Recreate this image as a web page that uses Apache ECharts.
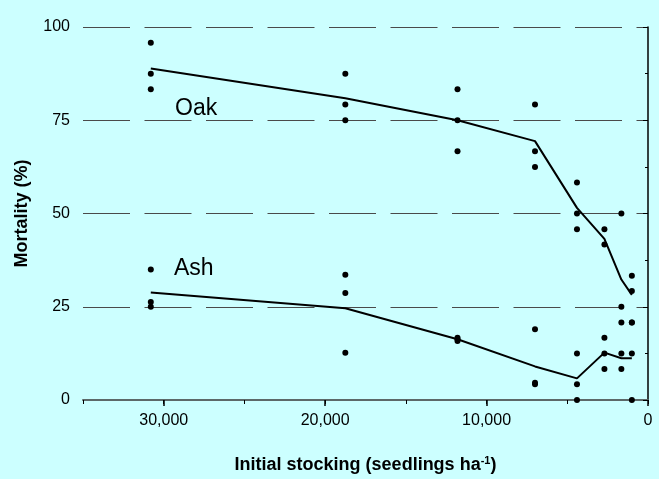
<!DOCTYPE html>
<html>
<head>
<meta charset="utf-8">
<script src="https://cdn.jsdelivr.net/npm/echarts@6/dist/echarts.min.js"></script>
<style>
html,body{margin:0;padding:0;background:#ffffff;}
#c{width:659px;height:479px;background:#CCFFFF;}
</style>
</head>
<body>
<div id="c"></div>
<script>
// Initial stocking (seedlings/ha) for each treatment
const stocking = [30800, 18750, 11800, 7000, 4400, 2700, 1650, 1000];
// Mean mortality (%) lines
const oakMean = [88.9, 80.9, 75.0, 69.4, 51.5, 43.2, 32.3, 28.2];
const ashMean = [28.8, 24.6, 16.3, 9.0, 5.8, 12.7, 11.2, 11.2];
// Individual plot mortality (%)
const oakPlots = [[95.8, 87.5, 83.3], [87.5, 79.2, 75.0], [83.3, 75.0, 66.7], [79.2, 66.7, 62.5],
                  [58.3, 50.0, 45.8], [45.8, 41.7], [50.0, 25.0, 20.8], [33.3, 29.2, 20.8]];
const ashPlots = [[35.0, 26.3, 25.0], [33.6, 28.7, 12.7], [16.7, 16.3, 15.8], [19.0, 4.6, 4.2],
                  [12.5, 4.2, 0], [16.7, 12.5, 8.3], [12.5, 8.3], [20.8, 12.5, 0]];
// Axis ticks
const xTicks = [0, 10000, 20000, 30000];
const yTicks = [0, 25, 50, 75, 100];

const FONT = "'Liberation Sans', Arial, Helvetica, sans-serif";

function flatten(xs, plots) {
  const out = [];
  plots.forEach((vals, i) => vals.forEach(v => out.push([xs[i], v])));
  return out;
}
const oakPts = flatten(stocking, oakPlots);
const ashPts = flatten(stocking, ashPlots);
const oakLine = stocking.map((x, i) => [x, oakMean[i]]);
const ashLine = stocking.map((x, i) => [x, ashMean[i]]);

const chart = echarts.init(document.getElementById('c'), null, {renderer: 'canvas'});
chart.setOption({
  animation: false,
  backgroundColor: '#CCFFFF',
  grid: {left: 83, right: 11, top: 27, bottom: 79, containLabel: false},
  xAxis: [{
    type: 'value', min: 0, max: 35000, interval: 5000, inverse: true,
    axisLine: {show: true, lineStyle: {color: '#5c6868', width: 2}},
    axisTick: {show: true, length: 4, lineStyle: {color: '#000', width: 1}},
    axisLabel: {show: false},
    splitLine: {show: false}
  }, {
    type: 'value', min: 0, max: 35000, interval: 10000, inverse: true,
    position: 'bottom',
    axisLine: {show: false},
    axisTick: {show: true, length: 6, customValues: xTicks, lineStyle: {color: '#000', width: 1.5}},
    axisLabel: {
      show: true, customValues: xTicks, margin: 13,
      fontFamily: FONT, fontSize: 16, color: '#000',
      formatter: v => v.toLocaleString('en-US')
    },
    splitLine: {show: false},
    name: '{t|Initial stocking (seedlings ha}{s|-1}{t|)}',
    nameLocation: 'middle', nameGap: 55,
    nameTextStyle: {
      rich: {
        t: {fontFamily: FONT, fontSize: 18, fontWeight: 'bold', color: '#000'},
        s: {fontFamily: FONT, fontSize: 11, fontWeight: 'bold', color: '#000', verticalAlign: 'top', padding: [0, 0, 9, 0]}
      }
    }
  }],
  yAxis: {
    type: 'value', min: 0, max: 100, interval: 25,
    axisLine: {show: true, lineStyle: {color: '#000', width: 1.5}},
    axisTick: {show: true, length: 5, lineStyle: {color: '#000', width: 1}},
    minorTick: {show: true, splitNumber: 2, length: 3, lineStyle: {color: '#000', width: 1}},
    axisLabel: {fontFamily: FONT, fontSize: 16, color: '#000', margin: 13,
      formatter: v => yTicks.includes(v) ? String(v) : ''},
    splitLine: {show: true, lineStyle: {color: '#4a4a4a', width: 1, type: [47, 14.5]}},
    name: 'Mortality (%)', nameLocation: 'middle', nameGap: 52,
    nameTextStyle: {fontFamily: FONT, fontSize: 18, fontWeight: 'bold', color: '#000'}
  },
  series: [
    {type: 'line', data: oakLine, symbol: 'none', lineStyle: {color: '#000', width: 2}, z: 3},
    {type: 'line', data: ashLine, symbol: 'none', lineStyle: {color: '#000', width: 2}, z: 3},
    {type: 'scatter', data: oakPts, symbol: 'circle', symbolSize: 6, itemStyle: {color: '#000', opacity: 1}, z: 4},
    {type: 'scatter', data: ashPts, symbol: 'circle', symbolSize: 6, itemStyle: {color: '#000', opacity: 1}, z: 4}
  ],
  graphic: [
    {type: 'text', left: 175, top: 97, style: {text: 'Oak', fontFamily: FONT, fontSize: 23, fill: '#000'}},
    {type: 'text', left: 174, top: 257, style: {text: 'Ash', fontFamily: FONT, fontSize: 23, fill: '#000'}}
  ]
});
</script>
</body>
</html>
